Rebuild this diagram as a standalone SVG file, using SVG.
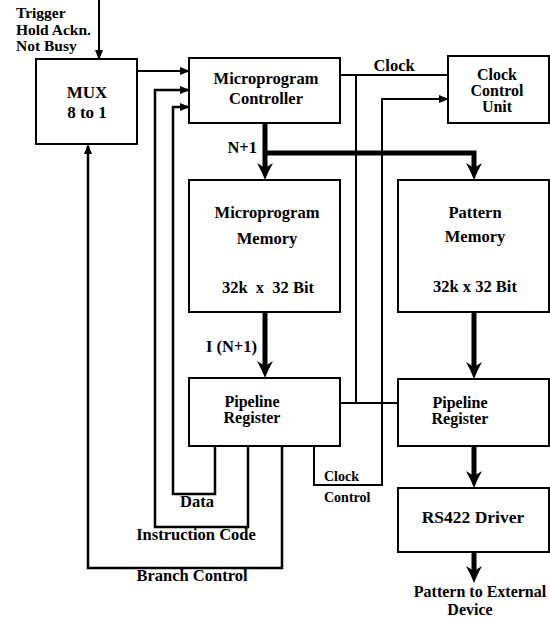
<svg xmlns="http://www.w3.org/2000/svg" width="550" height="619" viewBox="0 0 550 619">
<style>
.box{fill:#fff;stroke:#000;stroke-width:2}
.ln{fill:none;stroke:#000;stroke-width:2}
.fb{fill:none;stroke:#000;stroke-width:2.5}
.bus{fill:none;stroke:#000;stroke-width:5}
text{font-family:"Liberation Serif","Times New Roman",serif;font-weight:bold;font-size:16.5px;fill:#000}
.c{text-anchor:middle}
.e{text-anchor:end}
.t{font-size:16px}
</style>
<defs>
<marker id="a" markerUnits="userSpaceOnUse" markerWidth="10" markerHeight="8" refX="8" refY="4" orient="auto" viewBox="0 0 10 8">
<path d="M0,0 L10,4 L0,8 z" fill="#000"/>
</marker>
<marker id="b" markerUnits="userSpaceOnUse" markerWidth="17" markerHeight="16" refX="7" refY="8" orient="auto" viewBox="0 0 17 16">
<path d="M0,0 Q9,5 17,8 Q9,11 0,16 L5,8 z" fill="#000"/>
</marker>
</defs>
<g id="connectors">
<path class="ln" d="M99,0 V58" marker-end="url(#a)"/>
<path class="ln" d="M137,71 H188" marker-end="url(#a)"/>
<path class="ln" d="M340,75 H448"/>
<path class="ln" d="M356,75 V403"/>
<path class="ln" d="M340,403 H398"/>
<path class="ln" d="M314,446 V485 H382 V99 H447" marker-end="url(#a)"/>
<path class="bus" d="M265,123 V170" marker-end="url(#b)"/>
<path class="bus" d="M263,153 H474 V170" marker-end="url(#b)"/>
<path class="bus" d="M265,312 V368" marker-end="url(#b)"/>
<path class="bus" d="M474,312 V369" marker-end="url(#b)"/>
<path class="bus" d="M474,446 V478" marker-end="url(#b)"/>
<path class="bus" d="M474,552 V573" marker-end="url(#b)"/>
<path class="fb" d="M215,446 V494 H173 V107 H188" marker-end="url(#a)"/>
<path class="fb" d="M248,446 V527 H155 V90 H188" marker-end="url(#a)"/>
<path class="fb" d="M282,446 V568 H88 V146" marker-end="url(#a)"/>
</g>
<g id="inputs">
<text x="16" y="18" style="font-size:15.5px">Trigger</text>
<text x="16" y="35" style="font-size:15.5px">Hold Ackn.</text>
<text x="16" y="51" style="font-size:15.5px">Not Busy</text>
</g>
<g id="mux">
<rect class="box" x="36" y="59" width="101" height="85"/>
<text class="c" x="87" y="98" style="font-size:17px">MUX</text>
<text class="c" x="87" y="118" style="font-size:17px">8 to 1</text>
</g>
<g id="controller">
<rect class="box" x="189" y="58" width="151" height="65"/>
<text class="c" x="266" y="84">Microprogram</text>
<text class="c" x="266" y="104">Controller</text>
</g>
<g id="clockunit">
<rect class="box" x="448" y="56" width="101" height="67"/>
<text class="c t" x="497" y="80">Clock</text>
<text class="c t" x="497" y="96">Control</text>
<text class="c t" x="497" y="112">Unit</text>
</g>
<g id="mpmemory">
<rect class="box" x="189" y="180" width="151" height="132"/>
<text class="c" x="267" y="218">Microprogram</text>
<text class="c" x="267" y="244">Memory</text>
<text class="c" x="268" y="293" xml:space="preserve">32k  x  32 Bit</text>
</g>
<g id="patmemory">
<rect class="box" x="398" y="180" width="151" height="132"/>
<text class="c" x="475" y="218">Pattern</text>
<text class="c" x="475" y="242">Memory</text>
<text class="c" x="475" y="292">32k x 32 Bit</text>
</g>
<g id="pipeline1">
<rect class="box" x="189" y="378" width="151" height="68"/>
<text class="c t" x="252" y="407">Pipeline</text>
<text class="c t" x="252" y="423">Register</text>
</g>
<g id="pipeline2">
<rect class="box" x="398" y="379" width="151" height="67"/>
<text class="c t" x="460" y="408">Pipeline</text>
<text class="c t" x="460" y="424">Register</text>
</g>
<g id="driver">
<rect class="box" x="398" y="488" width="151" height="64"/>
<text class="c" x="473" y="523" style="font-size:17.5px">RS422 Driver</text>
</g>
<g id="labels">
<text x="394" y="71" class="c">Clock</text>
<text x="257" y="153" class="e">N+1</text>
<text x="257" y="352" class="e">I (N+1)</text>
<text x="324" y="481" style="font-size:14px">Clock</text>
<text x="324" y="502" style="font-size:14px">Control</text>
<text class="c" x="197" y="507">Data</text>
<text class="c" x="196" y="540">Instruction Code</text>
<text class="c" x="192" y="581">Branch Control</text>
<text class="c t" x="480" y="597">Pattern to External</text>
<text class="c t" x="470" y="615">Device</text>
</g>
</svg>
